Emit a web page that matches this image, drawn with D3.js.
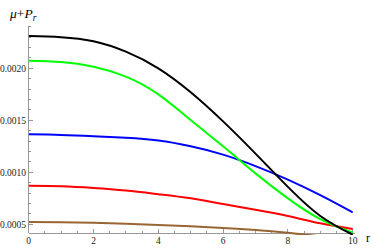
<!DOCTYPE html>
<meta charset="utf-8">
<style>
  body { margin: 0; background: #fff; }
  .axis line, .axis path { stroke: #999; shape-rendering: crispEdges; }
  .tick-label { font-family: "Liberation Serif", serif; font-size: 9.5px; fill: #222; }
  .curve { fill: none; stroke-width: 2px; stroke-linejoin: round; }
</style>

<svg width="374" height="249"></svg>

<script src="https://d3js.org/d3.v7.min.js"></script>

<script>
  var radius = [0, 1, 2, 3, 4, 5, 6, 7, 8, 9, 10];

  var blackVals = [0.00231, 0.0023, 0.00226, 0.00216, 0.0020, 0.00177, 0.00149, 0.00118, 0.00086, 0.00058, 0.00040];
  var greenVals = [0.002073, 0.00206, 0.002015, 0.00192, 0.00175, 0.001503, 0.00125, 0.00099, 0.00075, 0.00055, 0.00042];
  var blueVals  = [0.001365, 0.00136, 0.001348, 0.001332, 0.001305, 0.00125, 0.00117, 0.00106, 0.00093, 0.00078, 0.000615];
  var redVals   = [0.000871, 0.000866, 0.00085, 0.000825, 0.00079, 0.00075, 0.000695, 0.00064, 0.00058, 0.00051, 0.000455];
  var brownVals = [0.000522, 0.00052, 0.000514, 0.000505, 0.000494, 0.000481, 0.000465, 0.000445, 0.000418, 0.000385, 0.00035];

  var xTicks = [0, 2, 4, 6, 8, 10];
  var yTicks = [0.0005, 0.0010, 0.0015, 0.0020];

  var series = [
    { vals: blackVals, color: "#000000" },
    { vals: greenVals, color: "#00ff00" },
    { vals: blueVals,  color: "#0000ff" },
    { vals: redVals,   color: "#ff0000" },
    { vals: brownVals, color: "#996633" }
  ];

  var svg = d3.select("svg");

  var x = d3.scaleLinear().domain([0, 10]).range([28.7, 352.7]);
  var y = d3.scaleLinear().domain([0.000405, 0.00241]).range([234.2, 25.7]);
  var axisY = 233;

  svg.append("defs").append("clipPath").attr("id", "plot")
    .append("rect")
      .attr("x", x(0)).attr("y", 0)
      .attr("width", x(10) - x(0) + 2).attr("height", 235);

  // axes
  var ax = svg.append("g").attr("class", "axis");
  ax.append("line").attr("x1", x(0)).attr("x2", x(10) + 2).attr("y1", axisY).attr("y2", axisY);
  ax.append("line").attr("x1", x(0)).attr("x2", x(0)).attr("y1", y(0.00241)).attr("y2", axisY);

  // x ticks
  d3.range(0, 10.01, 0.5).forEach(function(t) {
    var major = Math.abs(t % 2) < 1e-9;
    ax.append("line")
      .attr("x1", x(t)).attr("x2", x(t))
      .attr("y1", axisY).attr("y2", axisY - (major ? 4 : 2));
  });
  svg.selectAll(".xlab").data(xTicks).enter().append("text")
    .attr("class", "tick-label")
    .attr("x", function(d) { return x(d); })
    .attr("y", 244)
    .attr("text-anchor", "middle")
    .text(function(d) { return d; });

  // y ticks
  d3.range(5, 24.5, 1).forEach(function(k) {
    var v = k / 10000;
    var major = k % 5 === 0;
    ax.append("line")
      .attr("x1", x(0)).attr("x2", x(0) + (major ? 4 : 2))
      .attr("y1", y(v)).attr("y2", y(v));
  });
  svg.selectAll(".ylab").data(yTicks).enter().append("text")
    .attr("class", "tick-label")
    .attr("x", 26)
    .attr("y", function(d) { return y(d) + 3.3; })
    .attr("text-anchor", "end")
    .text(function(d) { return d.toFixed(4); });

  // curves
  var line = d3.line()
    .x(function(d, i) { return x(radius[i]); })
    .y(function(d) { return y(d); })
    .curve(d3.curveNatural);

  svg.append("g").attr("clip-path", "url(#plot)")
    .selectAll("path")
    .data(series.slice().reverse())
    .enter().append("path")
      .attr("class", "curve")
      .attr("stroke", function(d) { return d.color; })
      .attr("d", function(d) { return line(d.vals); });

  // labels
  var yl = svg.append("text")
    .attr("x", 10).attr("y", 18)
    .style("font-family", "Liberation Serif, serif")
    .style("font-size", "13.5px")
    .style("font-style", "italic");
  yl.append("tspan").text("\u03bc");
  yl.append("tspan").style("font-style", "normal").text("+");
  yl.append("tspan").text("P");
  yl.append("tspan").attr("dy", 3).style("font-size", "9.5px").text("r");

  svg.append("text")
    .attr("x", 366).attr("y", 242)
    .style("font-family", "Liberation Serif, serif")
    .style("font-size", "12px")
    .text("r");
</script>
